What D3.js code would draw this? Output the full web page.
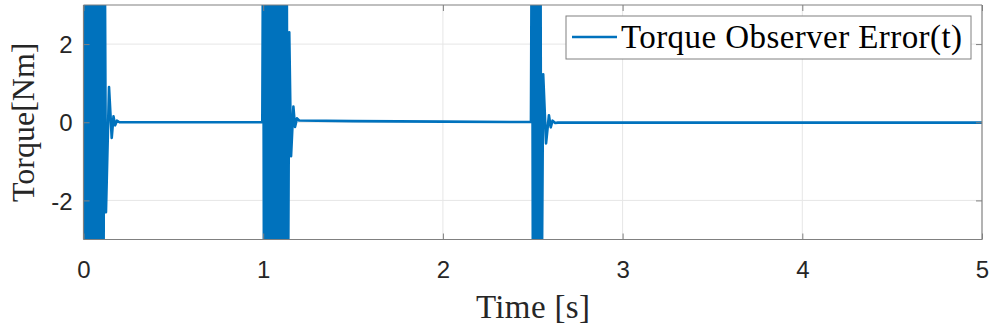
<!DOCTYPE html>
<html>
<head>
<meta charset="utf-8">
<script src="https://cdn.jsdelivr.net/npm/d3@7"></script>
<style>
html,body{margin:0;padding:0;background:#fff;}
svg{display:block;}
</style>
</head>
<body>
<svg id="chart" width="996" height="332"></svg>
<script>
// ---- data ----
const xTicks = [0, 1, 2, 3, 4, 5];
const yTicks = [-2, 0, 2];
const xLabel = "Time [s]";
const yLabel = "Torque[Nm]";
const seriesName = "Torque Observer Error(t)";

// event 1 : saturated burst at t = 0 and its decaying tail
const time1 = [0.000,0.005,0.010,0.015,0.020,0.025,0.030,0.035,0.040,0.045,0.050,0.055,
               0.060,0.065,0.070,0.075,0.080,0.085,0.090,0.095,0.100,0.105,0.110,0.118,
               0.125,0.142,0.157,0.167,0.176,0.186,0.200,0.600,0.995];
const torque1 = [-6,6,-6,6,-6,6,-6,6,-6,6,-6,6,
                 -6,6,-6,6,-6,6,-6,6,-6,6,-6,5,
                 -2.3,0.9,-0.4,0.15,-0.08,0.04,0.0,0.0,0.0];

// event 2 : saturated burst at t = 1 s and its decaying tail
const time2 = [1.000,1.005,1.010,1.015,1.020,1.025,1.030,1.035,1.040,1.045,1.050,1.055,
               1.060,1.065,1.070,1.075,1.080,1.085,1.090,1.095,1.100,1.105,1.110,1.115,
               1.120,1.125,1.130,1.137,1.145,1.155,1.168,1.177,1.188,1.200,1.500,2.000,2.490];
const torque2 = [6,-6,6,-6,6,-6,6,-6,6,-6,6,-6,
                 6,-6,6,-6,6,-6,6,-6,6,-6,6,-6,
                 6,-6,6,-6,2.3,-0.87,0.4,-0.12,0.1,0.045,0.03,0.015,0.005];

// event 3 : saturated burst at t = 2.5 s and its decaying tail
const time3 = [2.496,2.502,2.508,2.514,2.520,2.526,2.532,2.538,2.542,2.548,
               2.558,2.574,2.590,2.600,2.610,2.625,2.640,3.500,5.000];
const torque3 = [7,-7,7,-7,7,-7,7,-7,7,-6,
                 1.23,-0.54,0.18,-0.13,0.04,-0.02,-0.01,-0.01,-0.01];

const time = time1.concat(time2, time3);
const torque = torque1.concat(torque2, torque3);
const points = time.map((t, i) => [t, torque[i]]);

// ---- layout ----
const svg = d3.select("#chart");
const L = 83.5, R = 982, T = 5, B = 239.5;
const x = d3.scaleLinear().domain([0, 5]).range([L, R]);
const y = d3.scaleLinear().domain([-3, 3]).range([B, T]);
const blue = "#0072BD";
const axisColor = "#808080";
const tickColor = "#262626";

svg.append("rect").attr("x", 0).attr("y", 0).attr("width", 996).attr("height", 332).attr("fill", "#fff");

// grid
const grid = svg.append("g");
grid.selectAll("line.gx").data(xTicks.slice(1, -1)).join("line")
  .attr("x1", d => x(d)).attr("x2", d => x(d)).attr("y1", T).attr("y2", B)
  .attr("stroke", "#e6e6e6").attr("stroke-width", 1);
grid.selectAll("line.gy").data(yTicks).join("line")
  .attr("y1", d => y(d)).attr("y2", d => y(d)).attr("x1", L).attr("x2", R)
  .attr("stroke", "#e6e6e6").attr("stroke-width", 1);

// clip
svg.append("clipPath").attr("id", "clip").append("rect")
  .attr("x", L).attr("y", T).attr("width", R - L).attr("height", B - T);

// data line
const line = d3.line().x(d => x(d[0])).y(d => y(d[1]));
svg.append("path").datum(points)
  .attr("clip-path", "url(#clip)")
  .attr("d", line)
  .attr("fill", "none")
  .attr("stroke", blue)
  .attr("stroke-width", 2.6)
  .attr("stroke-linejoin", "round");

// axes (ticks inward, box)
const tickLen = 6;
const fmt = d => String(d);
const xAxisB = d3.axisBottom(x).tickValues(xTicks).tickSize(-tickLen).tickFormat(fmt);
const xAxisT = d3.axisTop(x).tickValues(xTicks).tickSize(-tickLen).tickFormat("");
const yAxisL = d3.axisLeft(y).tickValues(yTicks).tickSize(-tickLen).tickFormat(fmt);
const yAxisR = d3.axisRight(y).tickValues(yTicks).tickSize(-tickLen).tickFormat("");

function style(g) {
  g.select(".domain").attr("stroke", axisColor).attr("stroke-width", 1.2);
  g.selectAll(".tick line").attr("stroke", axisColor).attr("stroke-width", 1);
  g.selectAll(".tick text").attr("fill", tickColor)
    .attr("font-family", "'Liberation Sans', Arial, sans-serif").attr("font-size", 24);
}
const gB = svg.append("g").attr("transform", `translate(0,${B})`).call(xAxisB).call(style);
gB.selectAll(".tick text").attr("dy", null).attr("y", 38);
gB.select(".domain").attr("d", `M${L},0H${R}`);
const gT = svg.append("g").attr("transform", `translate(0,${T})`).call(xAxisT).call(style);
gT.select(".domain").attr("d", `M${L},0H${R}`);
const gL = svg.append("g").attr("transform", `translate(${L},0)`).call(yAxisL).call(style);
gL.selectAll(".tick text").attr("x", -11).attr("dy", "0.36em");
gL.select(".domain").attr("d", `M0,${T}V${B}`);
const gR = svg.append("g").attr("transform", `translate(${R},0)`).call(yAxisR).call(style);
gR.select(".domain").attr("d", `M0,${T}V${B}`);

// axis labels
svg.append("text").attr("x", 533).attr("y", 318)
  .attr("text-anchor", "middle")
  .attr("font-family", "'Liberation Serif', 'Times New Roman', serif")
  .attr("font-size", 33).attr("fill", tickColor)
  .attr("textLength", 114).attr("lengthAdjust", "spacing")
  .text(xLabel);
svg.append("text")
  .attr("transform", `translate(34,${(T + B) / 2}) rotate(-90)`)
  .attr("text-anchor", "middle")
  .attr("font-family", "'Liberation Serif', 'Times New Roman', serif")
  .attr("font-size", 32).attr("fill", tickColor)
  .text(yLabel);

// legend
const lg = svg.append("g");
lg.append("rect").attr("x", 566).attr("y", 16).attr("width", 405).attr("height", 43)
  .attr("fill", "#fff").attr("stroke", "#808080").attr("stroke-width", 1);
lg.append("line").attr("x1", 572).attr("x2", 617).attr("y1", 37).attr("y2", 37)
  .attr("stroke", blue).attr("stroke-width", 2.6);
lg.append("text").attr("x", 621).attr("y", 48)
  .attr("font-family", "'Liberation Serif', 'Times New Roman', serif")
  .attr("font-size", 33).attr("fill", "#000")
  .attr("textLength", 341).attr("lengthAdjust", "spacing")
  .text(seriesName);
</script>
</body>
</html>
